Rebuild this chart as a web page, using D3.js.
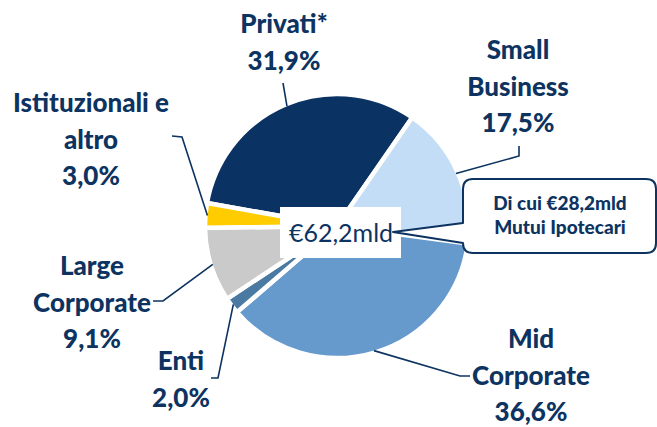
<!DOCTYPE html>
<html>
<head>
<meta charset="utf-8">
<script src="https://cdn.jsdelivr.net/npm/d3@7"></script>
<style>
  html, body { margin: 0; padding: 0; background: #fff; }
  svg { display: block; font-family: Lato, 'Open Sans', sans-serif; }
</style>
</head>
<body>
<div id="app"></div>
<script>
// dati del grafico
const categories = ['Privati*', 'Small Business', 'Mid Corporate', 'Enti', 'Large Corporate', 'Istituzionali e altro']
const shares = [31.9, 17.5, 36.6, 2.0, 9.1, 3.0]
const labelLines = [['Privati*'], ['Small', 'Business'], ['Mid', 'Corporate'], ['Enti'], ['Large', 'Corporate'], ['Istituzionali e', 'altro']]
const totalLabel = '€62,2mld'
const calloutLines = ['Di cui €28,2mld', 'Mutui Ipotecari']

const colors = ['#0a3263', '#c4ddf7', '#6699cc', '#4a7aa2', '#cacaca', '#ffcc00']
const navy = '#0d3361'

const w = 657
const h = 427
const cx = 337
const cy = 226
const r = 132

// posizione delle etichette (centro x, prima riga y) e gomiti delle linee guida
const labelPos = [[284, 33], [518, 59], [531, 348], [181, 370], [92, 275], [91, 112]]
const elbows = [
  [[283, 83]],
  [[519, 156], [519, 146]],
  [[460, 376], [470, 376]],
  [[218, 378], [211, 378]],
  [[163, 301], [153, 301]],
  [[182, 137], [172, 136]]
]
const lineGap = 36.5

const itLocale = d3.formatLocale({ decimal: ',', thousands: '.', grouping: [3], currency: ['€', ''] })
const fmt = itLocale.format('.1f')

const svg = d3.select('#app')
  .append('svg')
  .attr('width', w)
  .attr('height', h)

const start = -80 * Math.PI / 180
const pie = d3.pie()
  .sort(null)
  .value(d => d)
  .startAngle(start)
  .endAngle(start + 2 * Math.PI)

const arcs = pie(shares)

const arc = d3.arc().innerRadius(0).outerRadius(r)
const edgeArc = d3.arc().innerRadius(r - 2).outerRadius(r - 2)

const g = svg.append('g')
  .attr('transform', `translate(${cx},${cy})`)

g.selectAll('path.slice')
  .data(arcs)
  .enter()
  .append('path')
  .attr('class', 'slice')
  .attr('d', arc)
  .attr('fill', (d, i) => colors[i])
  .attr('stroke', '#fff')
  .attr('stroke-width', 4.5)
  .attr('stroke-linejoin', 'round')

// etichetta centrale
svg.append('rect')
  .attr('x', 280)
  .attr('y', 207)
  .attr('width', 121)
  .attr('height', 51)
  .attr('fill', '#fff')

svg.append('text')
  .attr('x', 341)
  .attr('y', 242)
  .attr('text-anchor', 'middle')
  .attr('fill', navy)
  .style('font-size', '25px')
  .text(totalLabel)

// riquadro mutui
const bx = 463, by = 179, bw = 193, bh = 74, rr = 10
const tip = [393, 232]
const callout = d3.path()
callout.moveTo(bx + rr, by)
callout.lineTo(bx + bw - rr, by)
callout.quadraticCurveTo(bx + bw, by, bx + bw, by + rr)
callout.lineTo(bx + bw, by + bh - rr)
callout.quadraticCurveTo(bx + bw, by + bh, bx + bw - rr, by + bh)
callout.lineTo(bx + rr, by + bh)
callout.quadraticCurveTo(bx, by + bh, bx, by + bh - rr)
callout.lineTo(bx, 243)
callout.lineTo(tip[0], tip[1])
callout.lineTo(bx, 223)
callout.lineTo(bx, by + rr)
callout.quadraticCurveTo(bx, by, bx + rr, by)
callout.closePath()

svg.append('path')
  .attr('d', callout.toString())
  .attr('fill', '#fff')
  .attr('stroke', navy)
  .attr('stroke-width', 2)
  .attr('stroke-linejoin', 'round')

svg.append('g')
  .selectAll('text')
  .data(calloutLines)
  .enter()
  .append('text')
  .attr('x', 560)
  .attr('y', (d, i) => 210 + i * 24)
  .attr('text-anchor', 'middle')
  .attr('fill', navy)
  .style('font-size', '19px')
  .style('font-weight', 900)
  .text(d => d)

// linee guida
const line = d3.line()
svg.append('g')
  .selectAll('path')
  .data(arcs)
  .enter()
  .append('path')
  .attr('d', (d, i) => {
    const c = edgeArc.centroid(d)
    return line([[cx + c[0], cy + c[1]], ...elbows[i]])
  })
  .attr('fill', 'none')
  .attr('stroke', navy)
  .attr('stroke-width', 1.6)

// etichette
const labels = svg.append('g')
  .selectAll('text')
  .data(arcs)
  .enter()
  .append('text')
  .attr('text-anchor', 'middle')
  .attr('fill', navy)
  .style('font-size', '26px')
  .style('font-weight', 900)

labels.each(function (d, i) {
  const t = d3.select(this)
  const rows = labelLines[i].concat([fmt(d.data) + '%'])
  rows.forEach((row, j) => {
    t.append('tspan')
      .attr('x', labelPos[i][0])
      .attr('y', labelPos[i][1] + j * lineGap)
      .text(row)
  })
})
</script>
</body>
</html>
